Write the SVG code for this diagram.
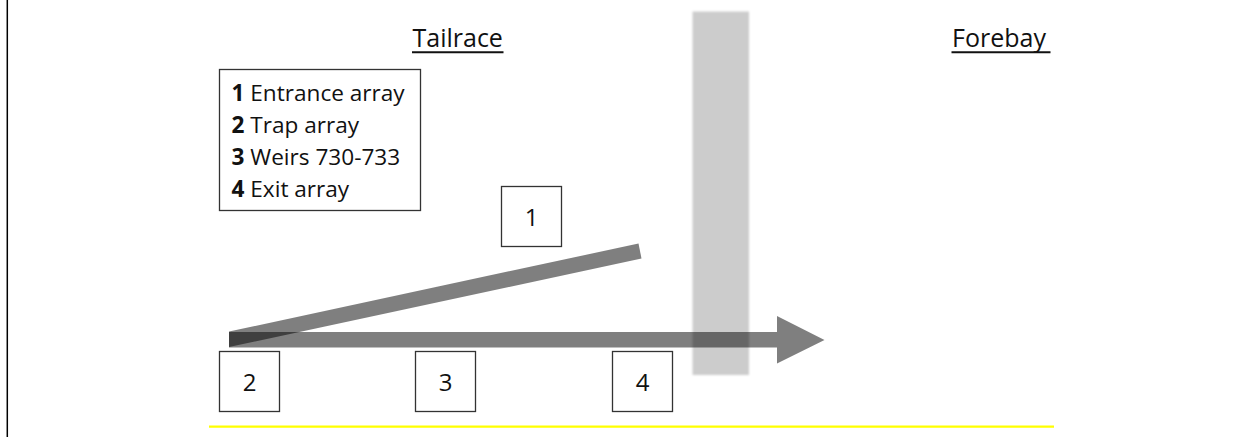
<svg xmlns="http://www.w3.org/2000/svg" width="1253" height="440" viewBox="0 0 1253 440">
  <defs>
    <style>
      .box { fill: #ffffff; stroke: #333333; stroke-width: 1.3; }
      .num { font-family: "Open Sans", "Liberation Sans", sans-serif; font-size: 24px; fill: #111111; text-anchor: middle; }
      .legend { font-family: "Open Sans", "Liberation Sans", sans-serif; font-size: 22.6px; fill: #111111; }
      .legend .b { font-weight: bold; }
      .head { font-family: "Open Sans", "Liberation Sans", sans-serif; font-size: 25px; fill: #111111; }
      .uline { stroke: #111111; stroke-width: 2; }
      .flow { fill: #000000; fill-opacity: 0.5; }
    </style>
    <filter id="soft" x="-10%" y="-5%" width="120%" height="110%">
      <feGaussianBlur stdDeviation="0.8"/>
    </filter>
  </defs>

  <rect width="1253" height="440" fill="#ffffff"/>

  <!-- left frame edge -->
  <line x1="7.3" y1="0" x2="7.3" y2="437" stroke="#000000" stroke-width="1.5"/>

  <!-- water surface -->
  <line x1="209" y1="426.7" x2="1054" y2="426.7" stroke="#ffff00" stroke-width="2.2"/>

  <!-- dam -->
  <g id="dam">
    <rect x="692.5" y="11.5" width="56.5" height="363.5" fill="#000000" fill-opacity="0.2" filter="url(#soft)"/>
  </g>

  <!-- headings -->
  <g id="tailrace">
    <text class="head" x="412.5" y="46.7">Tailrace</text>
    <line class="uline" x1="412" y1="52.3" x2="503.5" y2="52.3"/>
  </g>
  <g id="forebay">
    <text class="head" x="952" y="47">Forebay</text>
    <line class="uline" x1="951.5" y1="52.3" x2="1050.5" y2="52.3"/>
  </g>

  <!-- legend -->
  <g id="legend">
    <rect class="box" x="219.5" y="69.5" width="201" height="141"/>
    <text class="legend" x="231.5" y="101"><tspan class="b">1</tspan> Entrance array</text>
    <text class="legend" x="231.5" y="133"><tspan class="b">2</tspan> Trap array</text>
    <text class="legend" x="231.5" y="165"><tspan class="b">3</tspan> Weirs 730-733</text>
    <text class="legend" x="231.5" y="196.7"><tspan class="b">4</tspan> Exit array</text>
  </g>

  <!-- fish paths -->
  <g id="connectors">
    <polygon class="flow" points="229,331.5 638.5,243.5 641.5,258.5 229,347"/>
    <polygon class="flow" points="229,332 777,332 777,316 824.5,340 777,363.5 777,347.5 229,347.5"/>
  </g>

  <!-- numbered arrays -->
  <g id="array1">
    <rect class="box" x="501.5" y="186.5" width="60" height="60"/>
    <text class="num" x="531.5" y="225.5">1</text>
  </g>
  <g id="array2">
    <rect class="box" x="219.5" y="351.5" width="60" height="60"/>
    <text class="num" x="249.5" y="390.5">2</text>
  </g>
  <g id="array3">
    <rect class="box" x="415.5" y="351.5" width="60" height="60"/>
    <text class="num" x="445.5" y="390.5">3</text>
  </g>
  <g id="array4">
    <rect class="box" x="612.5" y="351.5" width="60" height="60"/>
    <text class="num" x="642.5" y="390.5">4</text>
  </g>
</svg>
